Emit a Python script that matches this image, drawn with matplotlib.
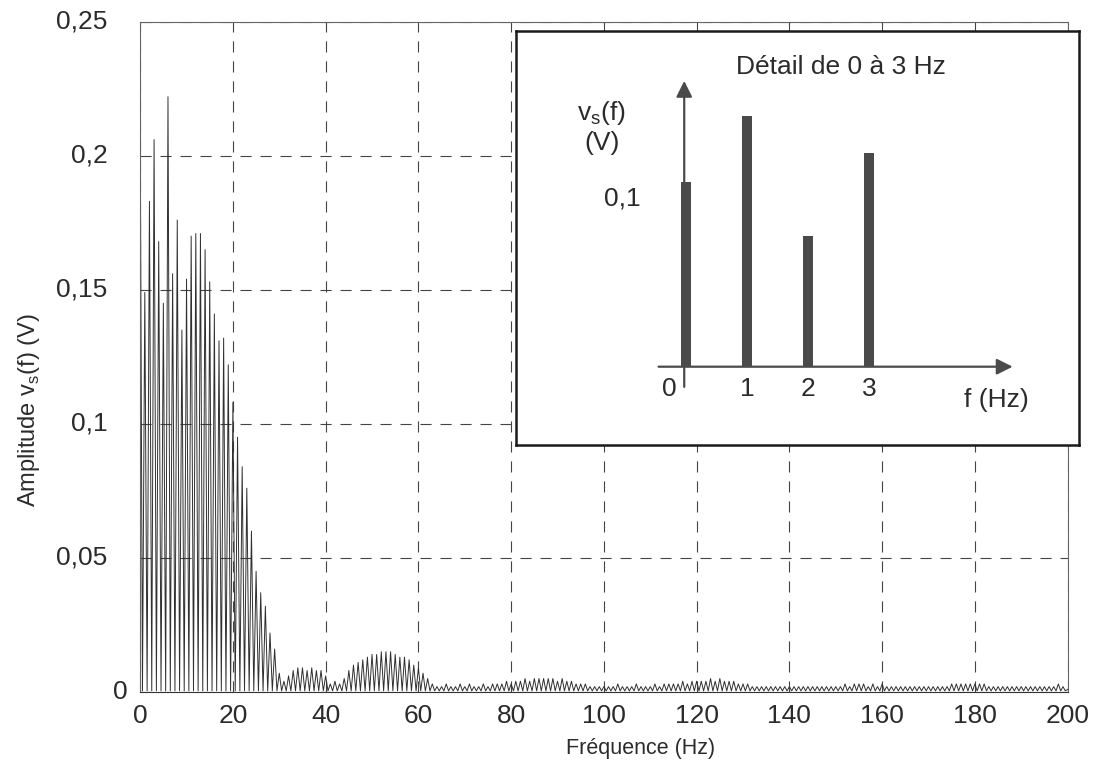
import numpy as np
import matplotlib
matplotlib.use("Agg")
import matplotlib.pyplot as plt

plt.rcParams['font.family'] = ['Liberation Sans', 'DejaVu Sans']

# amplitude of each spectral line, 1 Hz apart, from 0 to 200 Hz (V)
peak_amps = [
    0.215, 0.149, 0.183, 0.206, 0.168, 0.145, 0.222, 0.156, 0.176, 0.135,
    0.154, 0.170, 0.171, 0.171, 0.165, 0.153, 0.141, 0.131, 0.132, 0.122,
    0.108, 0.095, 0.084, 0.076, 0.060, 0.045, 0.037, 0.032, 0.022, 0.016,
    0.007, 0.004, 0.006, 0.008, 0.009, 0.009, 0.008, 0.009, 0.008, 0.008,
    0.006, 0.003, 0.004, 0.003, 0.005, 0.008, 0.010, 0.011, 0.012, 0.013,
    0.014, 0.014, 0.015, 0.015, 0.015, 0.014, 0.013, 0.013, 0.012, 0.010,
    0.009, 0.007, 0.005, 0.003, 0.002, 0.002, 0.003, 0.002, 0.002, 0.003,
    0.002, 0.003, 0.002, 0.002, 0.003, 0.002, 0.003, 0.003, 0.003, 0.004,
    0.003, 0.004, 0.004, 0.005, 0.004, 0.005, 0.005, 0.005, 0.005, 0.005,
    0.004, 0.005, 0.004, 0.004, 0.003, 0.003, 0.003, 0.002, 0.002, 0.002,
    0.002, 0.002, 0.002, 0.003, 0.002, 0.002, 0.002, 0.003, 0.002, 0.002,
    0.002, 0.003, 0.002, 0.003, 0.003, 0.003, 0.003, 0.004, 0.003, 0.004,
    0.004, 0.004, 0.004, 0.005, 0.004, 0.005, 0.004, 0.004, 0.004, 0.003,
    0.003, 0.003, 0.002, 0.002, 0.002, 0.002, 0.002, 0.002, 0.002, 0.002,
    0.002, 0.002, 0.002, 0.002, 0.002, 0.002, 0.002, 0.002, 0.002, 0.002,
    0.002, 0.002, 0.003, 0.002, 0.003, 0.003, 0.003, 0.002, 0.003, 0.002,
    0.003, 0.002, 0.002, 0.002, 0.002, 0.002, 0.002, 0.002, 0.002, 0.002,
    0.002, 0.002, 0.002, 0.002, 0.002, 0.003, 0.003, 0.003, 0.003, 0.003,
    0.003, 0.003, 0.003, 0.002, 0.002, 0.002, 0.002, 0.002, 0.002, 0.002,
    0.002, 0.002, 0.002, 0.002, 0.002, 0.002, 0.002, 0.002, 0.003, 0.002,
    0.001,
]
trough_amp = 0.0004  # level between two lines

x_ticks = [0, 20, 40, 60, 80, 100, 120, 140, 160, 180, 200]
y_ticks = [0, 0.05, 0.1, 0.15, 0.2, 0.25]
y_tick_labels = ["0", "0,05", "0,1", "0,15", "0,2", "0,25"]

# inset: detail 0..3 Hz
inset_freqs = [0, 1, 2, 3]
inset_amps = [0.110, 0.149, 0.078, 0.127]
inset_tick_labels = ["0", "1", "2", "3"]

ink = "#2b2b2b"
fs = 19

fig = plt.figure(figsize=(10.95, 7.74), dpi=100)
ax = fig.add_axes([0.128, 0.106, 0.847, 0.866])

# line goes up to each peak and back down in between
freqs = np.arange(len(peak_amps))
xs = np.column_stack([freqs, freqs + 0.5]).ravel()
ys = np.column_stack([np.array(peak_amps), np.full(len(peak_amps), trough_amp)]).ravel()
ax.plot(xs, ys, color="#303030", lw=0.7)

ax.set_xlim(0, 200)
ax.set_ylim(0, 0.25)
ax.set_xticks(x_ticks)
ax.set_xticklabels([str(v) for v in x_ticks])
ax.set_yticks(y_ticks)
ax.set_yticklabels([])
ax.tick_params(length=0, labelsize=fs, labelcolor=ink, pad=9)
ax.grid(True, color="#444444", lw=0.8, linestyle=(0, (10, 8)))
for sp in ax.spines.values():
    sp.set_color("#666666")
    sp.set_linewidth(0.8)
ax.spines["bottom"].set_color("#333333")

# y labels drawn by hand, the "0" sits closer to the axis
for val, lab in zip(y_ticks, y_tick_labels):
    xpos = -0.014 if val == 0 else -0.035
    ax.text(xpos, val, lab, transform=ax.get_yaxis_transform(),
            ha="right", va="center", fontsize=fs, color=ink)

ax.set_xlabel("Fréquence (Hz)", fontsize=15.5, color=ink)
ax.xaxis.set_label_coords(0.54, -0.068)
ax.set_ylabel("Amplitude v$_\\mathregular{s}$(f) (V)", fontsize=17, color=ink)
ax.yaxis.set_label_coords(-0.106, 0.42)

# inset box
ins = fig.add_axes([0.471, 0.425, 0.514, 0.535])
ins.set_facecolor("white")
ins.set_zorder(5)
ins.set_xlim(-2.79, 6.43)
ins.set_ylim(-0.0466, 0.1997)
ins.set_xticks([])
ins.set_yticks([])
for sp in ins.spines.values():
    sp.set_color("#1a1a1a")
    sp.set_linewidth(1.8)

ins.bar(inset_freqs, inset_amps, width=0.16, color="#4a4a4a")

ins.annotate("", xy=(5.35, 0), xytext=(-0.45, 0),
             arrowprops=dict(arrowstyle="-|>", color="#4a4a4a", lw=1.6,
                             mutation_scale=24, shrinkA=0, shrinkB=0))
ins.annotate("", xy=(-0.03, 0.17), xytext=(-0.03, -0.012),
             arrowprops=dict(arrowstyle="-|>", color="#4a4a4a", lw=1.6,
                             mutation_scale=24, shrinkA=0, shrinkB=0))

for f, lab in zip(inset_freqs, inset_tick_labels):
    xpos = -0.28 if f == 0 else f
    ins.text(xpos, -0.0135, lab, ha="center", va="center", fontsize=fs, color=ink)
ins.text(5.08, -0.020, "f (Hz)", ha="center", va="center", fontsize=fs, color=ink)
ins.text(-1.38, 0.151, "v$_\\mathregular{s}$(f)", ha="center", va="center", fontsize=fs, color=ink)
ins.text(-1.38, 0.133, "(V)", ha="center", va="center", fontsize=fs, color=ink)
ins.text(-1.04, 0.1, "0,1", ha="center", va="center", fontsize=fs, color=ink)
ins.text(0.578, 0.912, "Détail de 0 à 3 Hz", transform=ins.transAxes,
         ha="center", va="center", fontsize=fs, color=ink)

fig.savefig("out.png", dpi=100)
